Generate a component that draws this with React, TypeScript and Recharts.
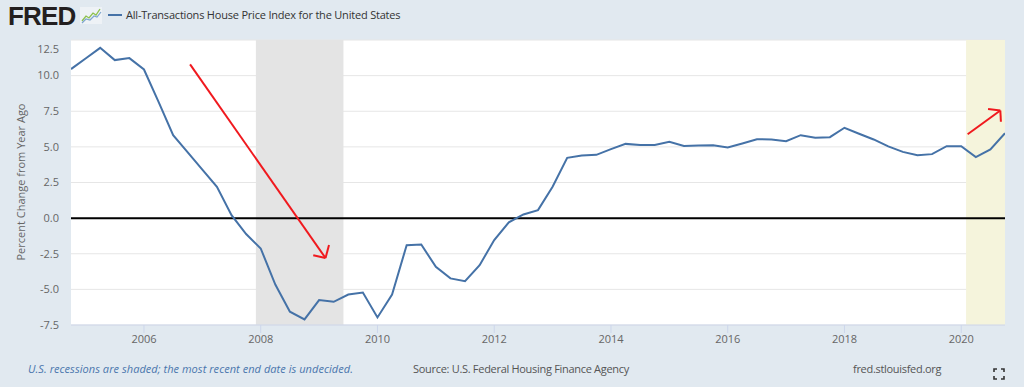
import React from 'react';
import { LineChart, Line, XAxis, YAxis, CartesianGrid, ReferenceArea, ReferenceLine } from 'recharts';

// Quarterly observation dates (first day of quarter)
const dates: string[] = [
  '2004-10-01',
  '2005-01-01', '2005-04-01', '2005-07-01', '2005-10-01',
  '2006-01-01', '2006-04-01', '2006-07-01', '2006-10-01',
  '2007-01-01', '2007-04-01', '2007-07-01', '2007-10-01',
  '2008-01-01', '2008-04-01', '2008-07-01', '2008-10-01',
  '2009-01-01', '2009-04-01', '2009-07-01', '2009-10-01',
  '2010-01-01', '2010-04-01', '2010-07-01', '2010-10-01',
  '2011-01-01', '2011-04-01', '2011-07-01', '2011-10-01',
  '2012-01-01', '2012-04-01', '2012-07-01', '2012-10-01',
  '2013-01-01', '2013-04-01', '2013-07-01', '2013-10-01',
  '2014-01-01', '2014-04-01', '2014-07-01', '2014-10-01',
  '2015-01-01', '2015-04-01', '2015-07-01', '2015-10-01',
  '2016-01-01', '2016-04-01', '2016-07-01', '2016-10-01',
  '2017-01-01', '2017-04-01', '2017-07-01', '2017-10-01',
  '2018-01-01', '2018-04-01', '2018-07-01', '2018-10-01',
  '2019-01-01', '2019-04-01', '2019-07-01', '2019-10-01',
  '2020-01-01', '2020-04-01', '2020-07-01', '2020-10-01',
];

// Percent change from year ago
const hpiChange: number[] = [
  10.46,
  11.2, 11.95, 11.09, 11.23,
  10.43, 8.16, 5.82, 4.61,
  3.41, 2.2, 0.21, -1.12,
  -2.13, -4.66, -6.57, -7.11,
  -5.75, -5.87, -5.36, -5.22,
  -6.97, -5.36, -1.9, -1.85,
  -3.42, -4.23, -4.42, -3.3,
  -1.54, -0.3, 0.26, 0.56,
  2.2, 4.23, 4.4, 4.44,
  4.84, 5.21, 5.14, 5.14,
  5.35, 5.07, 5.1, 5.12,
  4.96, 5.24, 5.54, 5.52,
  5.4, 5.82, 5.64, 5.68,
  6.34, 5.92, 5.52, 5.03,
  4.65, 4.42, 4.49, 5.05,
  5.05, 4.28, 4.82, 5.96,
];

const xTicks: number[] = [2006, 2008, 2010, 2012, 2014, 2016, 2018, 2020];
const yTicks: number[] = [-7.5, -5, -2.5, 0, 2.5, 5, 7.5, 10, 12.5];

// Shaded periods (decimal years)
const recessions: { from: number; to: number; fill: string }[] = [
  { from: 2007.917, to: 2009.417, fill: '#e4e4e4' },
  { from: 2020.083, to: 2020.75, fill: '#f5f4dc' },
];

// Hand-drawn red arrow annotations, in data coordinates [year, value]
const arrowSegments: [number, number, number, number][] = [
  [2006.79, 10.79, 2009.11, -2.8],
  [2008.9, -2.6, 2009.11, -2.8],
  [2009.17, -1.89, 2009.11, -2.8],
  [2020.11, 5.89, 2020.67, 7.55],
  [2020.46, 7.65, 2020.67, 7.55],
  [2020.68, 6.76, 2020.67, 7.55],
];

const toYear = (d: string) => {
  const [y, m] = d.split('-').map(Number);
  return y + (m - 1) / 12;
};

const data = dates.map((d, i) => ({ t: toYear(d), v: hpiChange[i] }));

const FONT = '"Open Sans", "Noto Sans", sans-serif';

const YTick = (props: any) => {
  const { x, y, payload } = props;
  const shift = payload.value === 12.5 ? 9 : 0;
  return (
    <text x={x} y={y + shift} dy="0.35em" textAnchor="end" fontSize={11} fill="#666" fontFamily={FONT}>
      {payload.value.toFixed(1)}
    </text>
  );
};

export default function App() {
  return (
    <div style={{ position: 'absolute', left: 0, top: 0, width: 1024, height: 387, background: '#e1e9f0', overflow: 'hidden', fontFamily: FONT }}>
      {/* Header */}
      <div style={{ position: 'absolute', left: 8, top: 2, fontFamily: '"Liberation Sans", Arial, sans-serif', fontWeight: 900, fontSize: 26, letterSpacing: -0.8, color: '#231f20', lineHeight: '28px' }}>
        FRED
      </div>
      <svg style={{ position: 'absolute', left: 80, top: 7 }} width={22} height={17}>
        <rect x={0} y={0} width={22} height={17} fill="#eef2f6" />
        <polyline points="2,14 6,9 9,11 13,6 16,8 20,2" fill="none" stroke="#8cc04b" strokeWidth={1.3} />
        <polyline points="2,16 6,12 10,13 14,9 17,10 21,5" fill="none" stroke="#7ea6cf" strokeWidth={1.2} />
      </svg>
      <svg style={{ position: 'absolute', left: 106, top: 9 }} width={18} height={12}>
        <line x1={2} y1={6} x2={16} y2={6} stroke="#4572a7" strokeWidth={2} />
      </svg>
      <div style={{ position: 'absolute', left: 126, top: 6, fontSize: 11, letterSpacing: -0.2, color: '#333', lineHeight: '18px', whiteSpace: 'nowrap' }}>
        All-Transactions House Price Index for the United States
      </div>

      {/* Y-axis title */}
      <div style={{ position: 'absolute', left: 20, top: 182, width: 0, height: 0 }}>
        <div style={{ position: 'absolute', left: 0, top: 0, transform: 'translate(-50%, -50%) rotate(-90deg)', fontSize: 11, color: '#666', whiteSpace: 'nowrap' }}>
          Percent Change from Year Ago
        </div>
      </div>

      <div style={{ position: 'absolute', left: 0, top: 0 }}>
        <LineChart width={1024} height={387} data={data} margin={{ top: 40, right: 19, bottom: 32, left: 0 }}>
          <CartesianGrid horizontal vertical={false} stroke="#e6e6e6" fill="#ffffff" />
          {recessions.map((r, i) => (
            <ReferenceArea key={i} x1={r.from} x2={r.to} y1={-7.5} y2={12.5} fill={r.fill} fillOpacity={1} stroke="none" ifOverflow="hidden" />
          ))}
          <XAxis
            dataKey="t"
            type="number"
            domain={['dataMin', 'dataMax']}
            ticks={xTicks}
            allowDataOverflow
            height={30}
            tickSize={8}
            tickMargin={2}
            tick={{ fontSize: 11, fill: '#666', fontFamily: FONT }}
            tickLine={{ stroke: '#ccd6eb' }}
            axisLine={{ stroke: '#ccd6eb' }}
          />
          <YAxis
            type="number"
            domain={[-7.5, 12.5]}
            ticks={yTicks}
            width={71}
            axisLine={false}
            tickLine={false}
            tickSize={6}
            tickMargin={6}
            tick={<YTick />}
          />
          <ReferenceLine y={0} stroke="#000" strokeWidth={2} />
          <Line type="linear" dataKey="v" stroke="#4572a7" strokeWidth={2} dot={false} isAnimationActive={false} />
          {arrowSegments.map((s, i) => (
            <ReferenceLine
              key={'a' + i}
              segment={[{ x: s[0], y: s[1] }, { x: s[2], y: s[3] }]}
              stroke="#f0191e"
              strokeWidth={2}
              ifOverflow="visible"
            />
          ))}
        </LineChart>
      </div>

      {/* Footer */}
      <div style={{ position: 'absolute', left: 28, top: 361, fontSize: 11, letterSpacing: 0.05, fontStyle: 'italic', color: '#4a76ad', whiteSpace: 'nowrap', lineHeight: '16px' }}>
        U.S. recessions are shaded; the most recent end date is undecided.
      </div>
      <div style={{ position: 'absolute', left: 413, top: 361, fontSize: 11, letterSpacing: -0.3, color: '#555', whiteSpace: 'nowrap', lineHeight: '16px' }}>
        Source: U.S. Federal Housing Finance Agency
      </div>
      <div style={{ position: 'absolute', left: 853, top: 361, fontSize: 11, letterSpacing: -0.3, color: '#555', whiteSpace: 'nowrap', lineHeight: '16px' }}>
        fred.stlouisfed.org
      </div>
      <svg style={{ position: 'absolute', left: 993, top: 368 }} width={12} height={12}>
        <path d="M1,4 V1 H4 M8,1 H11 V4 M11,8 V11 H8 M4,11 H1 V8" fill="none" stroke="#333" strokeWidth={1.6} />
      </svg>
    </div>
  );
}
